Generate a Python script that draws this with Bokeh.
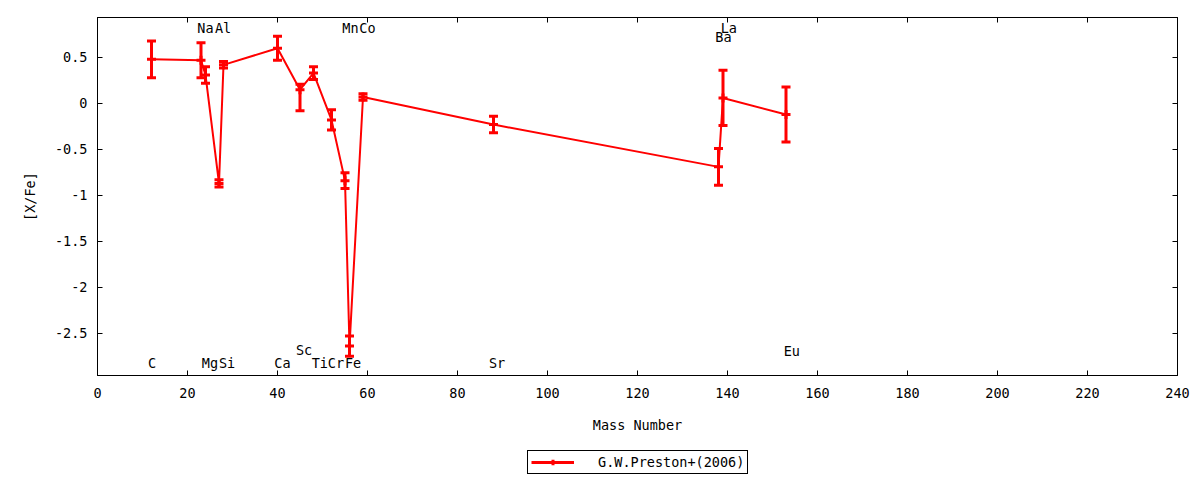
from bokeh.plotting import figure
from bokeh.layouts import column
from bokeh.models import (LinearAxis, FixedTicker, CustomJSTickFormatter, Range1d,
                          Legend, LegendItem, ColumnDataSource)
from bokeh.core.properties import value
from bokeh.embed import file_html
from bokeh.resources import INLINE

# ---- data ----
elements = ["C", "Na", "Mg", "Al", "Si", "Ca", "Sc", "Ti", "Cr", "Mn", "Fe", "Co", "Sr", "Ba", "La", "Eu"]
mass = [12, 23, 24, 27, 28, 40, 45, 48, 52, 55, 56, 59, 88, 138, 139, 153]
xfe = [0.48, 0.47, 0.31, -0.87, 0.42, 0.60, 0.15, 0.33, -0.18, -0.84, -2.64, 0.07, -0.23, -0.69, 0.06, -0.12]
err_lo = [0.20, 0.19, 0.09, 0.04, 0.035, 0.13, 0.23, 0.07, 0.11, 0.085, 0.11, 0.035, 0.09, 0.20, 0.30, 0.30]
err_hi = [0.20, 0.19, 0.09, 0.04, 0.035, 0.13, 0.06, 0.07, 0.11, 0.085, 0.11, 0.035, 0.09, 0.20, 0.30, 0.30]

label_x = [12.1, 24.0, 25.0, 27.9, 28.8, 41.1, 45.9, 49.4, 53.0, 56.2, 56.8, 60.0, 88.8, 139.1, 140.3, 154.3]
label_y = [-2.82, 0.82, -2.82, 0.82, -2.82, -2.82, -2.685, -2.82, -2.82, 0.82, -2.82, 0.82, -2.82, 0.72, 0.824, -2.69]

x_ticks = [0, 20, 40, 60, 80, 100, 120, 140, 160, 180, 200, 220, 240]
y_ticks = [-2.5, -2, -1.5, -1, -0.5, 0, 0.5]

series_name = "G.W.Preston+(2006)"
x_title = "Mass Number"
y_title = "[X/Fe]"

FONT = "DejaVu Sans Mono"
FS = "13.5px"
RED = "#ff0000"

lo = [v - e for v, e in zip(xfe, err_lo)]
hi = [v + e for v, e in zip(xfe, err_hi)]
src = ColumnDataSource(dict(x=mass, y=xfe, lo=lo, hi=hi))
lsrc = ColumnDataSource(dict(x=label_x, y=label_y, t=elements))

p = figure(width=1200, height=448, output_backend="svg", toolbar_location=None,
           x_range=Range1d(0, 240), y_range=Range1d(-2.96, 0.935),
           min_border_left=97, min_border_right=23, min_border_top=17, min_border_bottom=73)
p.xgrid.grid_line_color = None
p.ygrid.grid_line_color = None
p.outline_line_color = "black"
p.outline_line_width = 1
p.background_fill_color = "white"
p.border_fill_color = "white"

fmt = CustomJSTickFormatter(code="return tick.toString();")

def style_axis(ax, ticks):
    ax.ticker = FixedTicker(ticks=ticks)
    ax.formatter = fmt
    ax.major_tick_in = 5
    ax.major_tick_out = 0
    ax.minor_tick_line_color = None
    ax.axis_line_color = "black"
    ax.major_tick_line_color = "black"
    ax.major_label_text_font = FONT
    ax.major_label_text_font_size = FS
    ax.major_label_text_color = "black"
    ax.axis_label_text_font = FONT
    ax.axis_label_text_font_size = FS
    ax.axis_label_text_font_style = "normal"
    ax.axis_label_text_color = "black"

style_axis(p.xaxis[0], x_ticks)
style_axis(p.yaxis[0], y_ticks)
p.xaxis[0].axis_label = x_title
p.yaxis[0].axis_label = y_title
p.xaxis[0].major_label_standoff = 12
p.yaxis[0].major_label_standoff = 10
p.xaxis[0].axis_label_standoff = 16
p.yaxis[0].axis_label_standoff = 14

top = LinearAxis()
style_axis(top, x_ticks)
top.major_label_text_color = None
right = LinearAxis()
style_axis(right, y_ticks)
right.major_label_text_color = None
p.add_layout(top, "above")
p.add_layout(right, "right")

p.line("x", "y", source=src, line_color=RED, line_width=2)
p.segment("x", "lo", "x", "hi", source=src, line_color=RED, line_width=3)
p.scatter("x", "lo", source=src, marker="dash", size=9, line_color=RED, line_width=3)
p.scatter("x", "hi", source=src, marker="dash", size=9, line_color=RED, line_width=3)
p.scatter("x", "y", source=src, marker="cross", size=9, line_color=RED, line_width=3)

p.text("x", "y", text="t", source=lsrc, text_font=value(FONT), text_font_size=FS,
       text_align="center", text_baseline="middle", text_color="black")

# ---- legend strip below the chart (its frame is aligned with the chart's frame) ----
p2 = figure(width=1200, height=32, output_backend="svg", toolbar_location=None,
            x_range=Range1d(0, 1), y_range=Range1d(0, 1),
            x_axis_type=None, y_axis_type=None,
            min_border_left=0, min_border_right=0, min_border_top=0, min_border_bottom=0)
p2.xgrid.grid_line_color = None
p2.ygrid.grid_line_color = None
p2.outline_line_color = None
# key renderers reuse the series data; it lies outside this strip's ranges, so only the legend key shows
k_ln = p2.line("x", "y", source=src, line_color=RED, line_width=3)
k_pt = p2.scatter("x", "y", source=src, marker="cross", size=9, line_color=RED, line_width=3)
legend = Legend(items=[LegendItem(label=series_name, renderers=[k_ln, k_pt])],
                location=(430, 6), orientation="horizontal",
                label_text_font=FONT, label_text_font_size=FS, label_text_color="black",
                glyph_width=43, glyph_height=14, label_height=14, label_standoff=24,
                padding=3, spacing=0, margin=0,
                border_line_color="black", border_line_width=1, border_line_alpha=1.0,
                background_fill_alpha=1.0)
p2.add_layout(legend, "center")

open("out.html", "w").write(file_html(column(p, p2, spacing=0), INLINE))
